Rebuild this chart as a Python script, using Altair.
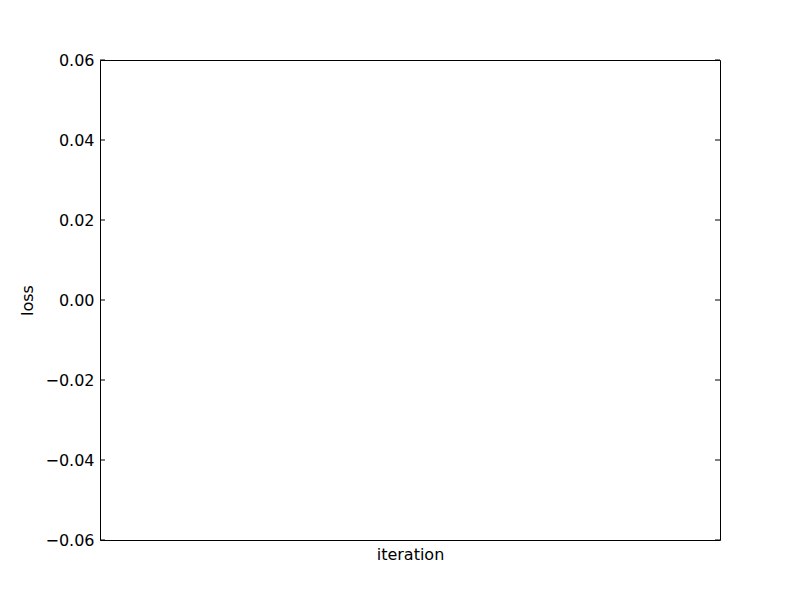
import altair as alt
import pandas as pd

y_ticks = [-0.06, -0.04, -0.02, 0.00, 0.02, 0.04, 0.06]
y_domain = [-0.06, 0.06]
x_domain = [0, 1]

df = pd.DataFrame({"v": y_ticks, "i": [0.5] * len(y_ticks)})

FONT = "DejaVu Sans"
FS = 16

yscale = alt.Scale(domain=y_domain, nice=False, zero=False)

left_ticks = alt.Chart(df).mark_rule(color="black", strokeWidth=1).encode(
    y=alt.Y("v:Q", scale=yscale,
            axis=alt.Axis(values=y_ticks, format=".2f", title="loss",
                          ticks=False, domain=False, grid=False,
                          labelPadding=6, labelFontSize=FS, labelFont=FONT,
                          labelColor="black", titleFont=FONT, titleFontSize=FS,
                          titleFontWeight="normal", titleColor="black",
                          titlePadding=9, labelFlush=False)),
    x=alt.value(0), x2=alt.value(5),
)

right_ticks = alt.Chart(df).mark_rule(color="black", strokeWidth=1).encode(
    y=alt.Y("v:Q", scale=yscale),
    x=alt.value(615), x2=alt.value(620),
)

xaxis_layer = alt.Chart(df).mark_point(opacity=0).encode(
    x=alt.X("i:Q", scale=alt.Scale(domain=x_domain, nice=False),
            axis=alt.Axis(title="iteration", labels=False, ticks=False,
                          domain=False, grid=False, titleFont=FONT,
                          titleFontSize=FS, titleFontWeight="normal",
                          titleColor="black", titlePadding=6)),
    y=alt.Y("v:Q", scale=yscale),
)

chart = alt.layer(left_ticks, right_ticks, xaxis_layer).properties(
    width=620, height=480,
    autosize=alt.AutoSizeParams(type="none"),
    padding={"left": 100, "top": 60, "right": 80, "bottom": 60},
    background="white",
).configure_view(stroke="black", strokeWidth=1)

chart.save("out.html", embed_options={"renderer": "svg", "actions": False})
